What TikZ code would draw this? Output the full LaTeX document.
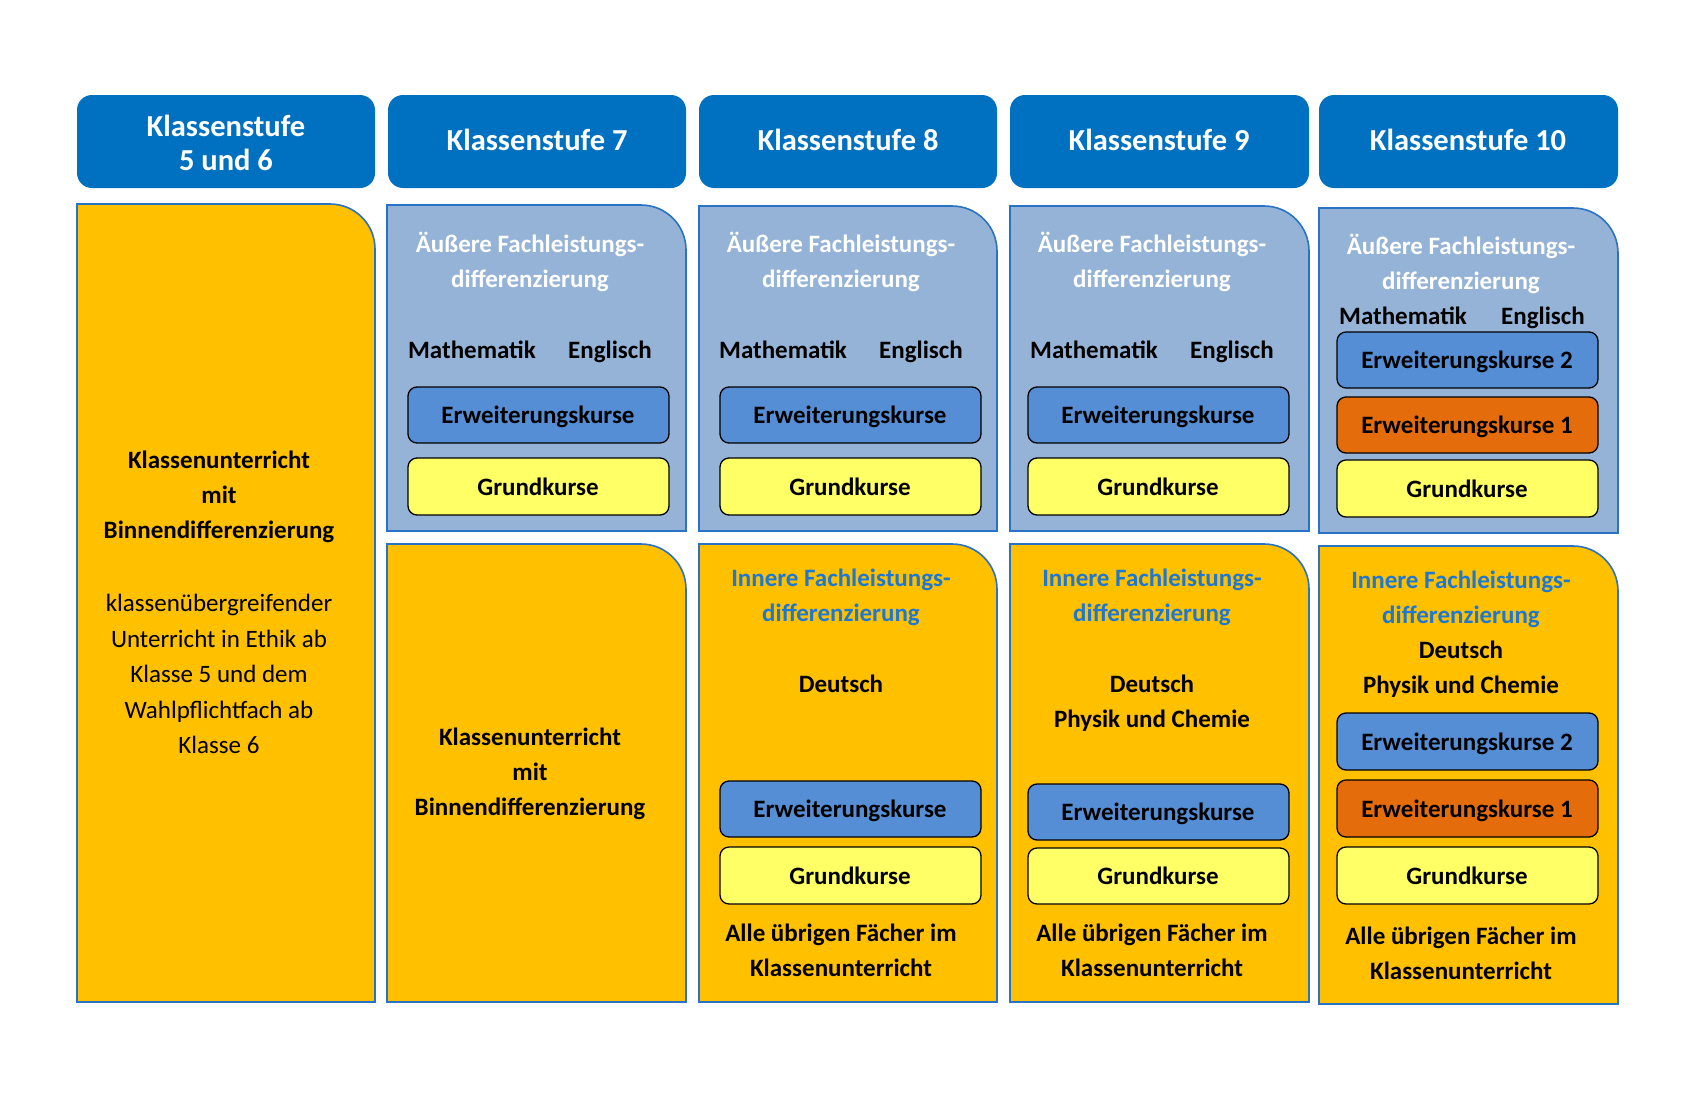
\documentclass[tikz,border=0pt]{standalone}
\usepackage{fontspec}
\setmainfont{Carlito}
\definecolor{hblue}{HTML}{0070C0}
\definecolor{lblue}{HTML}{95B3D7}
\definecolor{gold}{HTML}{FFC000}
\definecolor{oblue}{HTML}{2A72C4}
\definecolor{erw}{HTML}{558ED5}
\definecolor{grund}{HTML}{FFFF66}
\definecolor{erwo}{HTML}{E46C0A}
\definecolor{inner}{HTML}{1E78D2}
\tikzset{
  hdr/.style={fill=hblue, rounded corners=15pt},
  hdrtxt/.style={text=white, font=\fontsize{30.5}{34.5}\selectfont\bfseries, align=center, inner sep=0pt},
  big/.style={draw=oblue, line width=1.6pt},
  kurs/.style={draw=black, line width=1.3pt, rounded corners=9pt},
  ktxt/.style={font=\fontsize{25}{28}\selectfont\bfseries, inner sep=0pt, text height=19pt, text depth=3pt},
  btxt/.style={font=\fontsize{25}{35}\selectfont\bfseries, align=center, inner sep=0pt},
  sline/.style={btxt, text height=19pt, text depth=3pt},
  rtxt/.style={font=\fontsize{25}{35.5}\selectfont, align=center, inner sep=0pt},
  wtxt/.style={btxt, text=white},
  itxt/.style={btxt, text=inner}
}
\newcommand{\bigbox}[5]{\path[big, fill=#5] (#1,#4) -- (#1,#2) -- ({#3-45},#2) arc[start angle=-90, end angle=0, radius=45] -- (#3,#4) -- cycle;}
\begin{document}
\begin{tikzpicture}[x=1pt,y=-1pt]
\useasboundingbox (0,0) rectangle (1700,1100);
% headers
\foreach \xa/\xb/\n in {77/375/h1,388/686/h2,699/997/h3,1010/1309/h4,1319/1618/h5}{
  \path[hdr] (\xa,95) rectangle (\xb,188) coordinate[midway] (\n);
}
\node[hdrtxt] (h1t) at (226,143) {Klassenstufe\\5 und 6};
\node[hdrtxt] (h2t) at (537,140) {Klassenstufe 7};
\node[hdrtxt] (h3t) at (848,140) {Klassenstufe 8};
\node[hdrtxt] (h4t) at (1159,140) {Klassenstufe 9};
\node[hdrtxt] (h5t) at (1468,140) {Klassenstufe 10};
% big boxes
\bigbox{77}{204}{375}{1002}{gold}
\bigbox{387}{205}{686}{531}{lblue}
\bigbox{387}{544}{686}{1002}{gold}
\bigbox{699}{206}{997}{531}{lblue}
\bigbox{699}{544}{997}{1002}{gold}
\bigbox{1010}{206}{1309}{531}{lblue}
\bigbox{1010}{544}{1309}{1002}{gold}
\bigbox{1319}{208}{1618}{533}{lblue}
\bigbox{1319}{546}{1618}{1004}{gold}
% column 1
\node[btxt] (c1a) at (219,497) {Klassenunterricht\\mit\\Binnendifferenzierung};
\node[rtxt] (c1b) at (219,674) {klassenübergreifender\\Unterricht in Ethik ab\\Klasse 5 und dem\\Wahlpflichtfach ab\\Klasse 6};
% column 2
\node[wtxt] (c2a) at (530,262) {Äußere Fachleistungs-\\differenzierung};
\node[sline] (c2m) at (472,350) {Mathematik};
\node[sline] (c2e) at (610,350) {Englisch};
\path[kurs, fill=erw] (408,387) rectangle (669,443);
\node[ktxt] (c2k1) at (538,415) {Erweiterungskurse};
\path[kurs, fill=grund] (408,458) rectangle (669,515);
\node[ktxt] (c2k2) at (538,487) {Grundkurse};
\node[btxt] (c2b) at (530,774) {Klassenunterricht\\mit\\Binnendifferenzierung};
% column 3
\node[wtxt] (c3a) at (841,262) {Äußere Fachleistungs-\\differenzierung};
\node[sline] (c3m) at (783,350) {Mathematik};
\node[sline] (c3e) at (921,350) {Englisch};
\path[kurs, fill=erw] (720,387) rectangle (981,443);
\node[ktxt] (c3k1) at (850,415) {Erweiterungskurse};
\path[kurs, fill=grund] (720,458) rectangle (981,515);
\node[ktxt] (c3k2) at (850,487) {Grundkurse};
\node[itxt] (c3i) at (841,597) {Innere Fachleistungs-\\differenzierung};
\node[sline] (c3d) at (841,684) {Deutsch};
\path[kurs, fill=erw] (720,781) rectangle (981,837);
\node[ktxt] (c3k3) at (850,809) {Erweiterungskurse};
\path[kurs, fill=grund] (720,847) rectangle (981,904);
\node[ktxt] (c3k4) at (850,876) {Grundkurse};
\node[btxt] (c3u) at (841,950) {Alle übrigen Fächer im\\Klassenunterricht};
% column 4
\node[wtxt] (c4a) at (1152,262) {Äußere Fachleistungs-\\differenzierung};
\node[sline] (c4m) at (1094,350) {Mathematik};
\node[sline] (c4e) at (1232,350) {Englisch};
\path[kurs, fill=erw] (1028,387) rectangle (1289,443);
\node[ktxt] (c4k1) at (1158,415) {Erweiterungskurse};
\path[kurs, fill=grund] (1028,458) rectangle (1289,515);
\node[ktxt] (c4k2) at (1158,487) {Grundkurse};
\node[itxt] (c4i) at (1152,597) {Innere Fachleistungs-\\differenzierung};
\node[btxt] (c4d) at (1152,703) {Deutsch\\Physik und Chemie};
\path[kurs, fill=erw] (1028,784) rectangle (1289,840);
\node[ktxt] (c4k3) at (1158,812) {Erweiterungskurse};
\path[kurs, fill=grund] (1028,848) rectangle (1289,904);
\node[ktxt] (c4k4) at (1158,876) {Grundkurse};
\node[btxt] (c4u) at (1152,950) {Alle übrigen Fächer im\\Klassenunterricht};
% column 5
\node[wtxt] (c5a) at (1461,264) {Äußere Fachleistungs-\\differenzierung};
\node[sline] (c5m) at (1403,316) {Mathematik};
\node[sline] (c5e) at (1543,316) {Englisch};
\path[kurs, fill=erw] (1337,332) rectangle (1598,388);
\node[ktxt] (c5k1) at (1467,360) {Erweiterungskurse 2};
\path[kurs, fill=erwo] (1337,397) rectangle (1598,453);
\node[ktxt] (c5k2) at (1467,425) {Erweiterungskurse 1};
\path[kurs, fill=grund] (1337,460) rectangle (1598,517);
\node[ktxt] (c5k3) at (1467,489) {Grundkurse};
\node[itxt] (c5i) at (1461,599) {Innere Fachleistungs-\\differenzierung};
\node[btxt] (c5d) at (1461,669) {Deutsch\\Physik und Chemie};
\path[kurs, fill=erw] (1337,713) rectangle (1598,770);
\node[ktxt] (c5k4) at (1467,742) {Erweiterungskurse 2};
\path[kurs, fill=erwo] (1337,780) rectangle (1598,837);
\node[ktxt] (c5k5) at (1467,809) {Erweiterungskurse 1};
\path[kurs, fill=grund] (1337,847) rectangle (1598,904);
\node[ktxt] (c5k6) at (1467,876) {Grundkurse};
\node[btxt] (c5u) at (1461,953) {Alle übrigen Fächer im\\Klassenunterricht};
\end{tikzpicture}
\end{document}
